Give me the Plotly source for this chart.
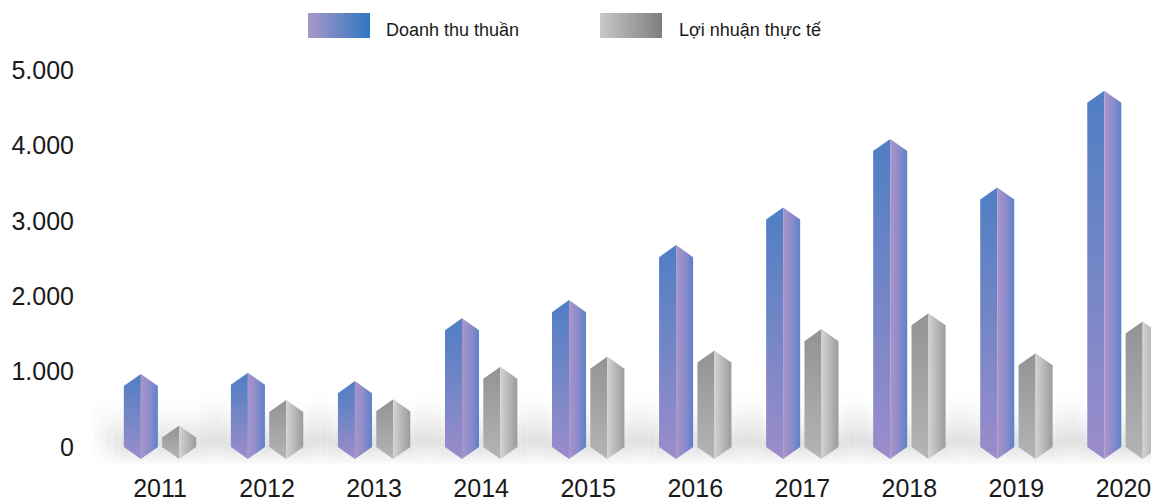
import plotly.graph_objects as go

# ---------------- data ----------------
years = ["2011", "2012", "2013", "2014", "2015", "2016", "2017", "2018", "2019", "2020"]
doanh_thu = [970, 985, 875, 1710, 1950, 2680, 3180, 4090, 3445, 4730]
loi_nhuan = [285, 625, 635, 1065, 1200, 1280, 1565, 1775, 1245, 1665]
y_ticks = [0, 1000, 2000, 3000, 4000, 5000]
series_names = ["Doanh thu thuần", "Lợi nhuận thực tế"]

# ---------------- style ----------------
FONT = "Liberation Sans, Arial, Helvetica, sans-serif"
OFFSET = 0.179      # bar centre offset from category centre (x units)
HALF_W = 0.159      # half bar width (x units)
TIP = 160           # height of the pointed tips (y units)
X_RANGE = [-0.654, 9.332]
Y_RANGE = [-279, 5828]
PX_X = 1 / 107.06   # x units per pixel
PX_Y = 1000 / 75.33 # y units per pixel

BLUE_LEFT = [[0, "#9c8ccb"], [0.5, "#7486c6"], [1, "#4f7ec4"]]
BLUE_RIGHT = [[0, "#aa95c9"], [0.55, "#8a8bcb"], [1, "#5b82c8"]]
GRAY_LEFT = [[0, "#b4b4b6"], [1, "#929395"]]
GRAY_RIGHT = [[0, "#d3d3d4"], [1, "#9b9b9d"]]

fig = go.Figure()

# soft shadow under each group (stacked translucent layers)
for i in range(len(years)):
    x_lo = i - OFFSET - HALF_W
    x_hi = i + OFFSET + HALF_W
    for k in range(5):
        m = (3 + 7 * k) * PX_X
        y_lo = -270
        y_hi = (28 + 7 * k) * PX_Y
        fig.add_trace(go.Scatter(
            x=[x_lo - m, x_hi + m, x_hi + m, x_lo - m, x_lo - m],
            y=[y_lo, y_lo, y_hi, y_hi, y_lo],
            mode="lines", line=dict(width=0), fill="toself",
            fillgradient=dict(type="vertical", colorscale=[
                [0, "rgba(0,0,0,0)"], [0.38, "rgba(0,0,0,0.026)"],
                [0.6, "rgba(0,0,0,0.015)"], [1, "rgba(0,0,0,0)"]]),
            hoverinfo="skip", showlegend=False))


def prism(cx, v, left_cs, right_cs, name):
    # left face
    fig.add_trace(go.Scatter(
        x=[cx - HALF_W, cx - HALF_W, cx, cx, cx - HALF_W],
        y=[0, v - TIP, v, -TIP, 0],
        mode="lines", line=dict(width=0), fill="toself",
        fillgradient=dict(type="vertical", colorscale=left_cs),
        hoverinfo="skip", showlegend=False, name=name))
    # right face
    fig.add_trace(go.Scatter(
        x=[cx, cx + HALF_W, cx + HALF_W, cx, cx],
        y=[v, v - TIP, 0, -TIP, v],
        mode="lines", line=dict(width=0), fill="toself",
        fillgradient=dict(type="horizontal", colorscale=right_cs),
        hoverinfo="skip", showlegend=False, name=name))


for i, (a, b) in enumerate(zip(doanh_thu, loi_nhuan)):
    prism(i - OFFSET, a, BLUE_LEFT, BLUE_RIGHT, series_names[0])
    prism(i + OFFSET, b, GRAY_LEFT, GRAY_RIGHT, series_names[1])

# ---------------- custom legend (page-pixel overlay axes) ----------------
def swatch(x0, x1, y0, y1, cs):
    fig.add_trace(go.Scatter(
        x=[x0, x1, x1, x0, x0], y=[y0, y0, y1, y1, y0],
        xaxis="x2", yaxis="y2", mode="lines", line=dict(width=0),
        fill="toself", fillgradient=dict(type="horizontal", colorscale=cs),
        hoverinfo="skip", showlegend=False))

swatch(308, 370, 13, 38, [[0, "#a897c8"], [1, "#2f77c1"]])
swatch(600, 662, 13, 38, [[0, "#c8c8c9"], [1, "#7d7e80"]])

annotations = [
    dict(x=384, y=30, xref="x2", yref="y2", text=series_names[0], showarrow=False,
         xanchor="left", yanchor="middle", font=dict(family=FONT, size=18, color="#1a1a1a")),
    dict(x=677, y=30, xref="x2", yref="y2", text=series_names[1], showarrow=False,
         xanchor="left", yanchor="middle", font=dict(family=FONT, size=18, color="#1a1a1a")),
]

# the page body adds an 8px margin, so the figure is 8px smaller on each used side
fig.update_layout(
    width=1151, height=494,
    margin=dict(l=82, r=0, t=0, b=34),
    paper_bgcolor="white", plot_bgcolor="rgba(0,0,0,0)",
    separators=",.",
    showlegend=False,
    annotations=annotations,
    xaxis=dict(range=X_RANGE, tickmode="array", tickvals=list(range(len(years))),
               ticktext=years, showgrid=False, zeroline=False, showline=False,
               ticks="", ticklabelstandoff=3,
               tickfont=dict(family=FONT, size=25, color="#1a1a1a"),
               fixedrange=True),
    yaxis=dict(range=Y_RANGE, tickmode="array", tickvals=y_ticks, tickformat=",d",
               showgrid=False, zeroline=False, showline=False, ticks="",
               ticklabelstandoff=15,
               tickfont=dict(family=FONT, size=25, color="#1a1a1a"), fixedrange=True),
    xaxis2=dict(range=[90, 1159], overlaying="x", visible=False, fixedrange=True),
    yaxis2=dict(range=[468, 8], overlaying="y", visible=False, fixedrange=True),
)

fig.write_html("out.html")
